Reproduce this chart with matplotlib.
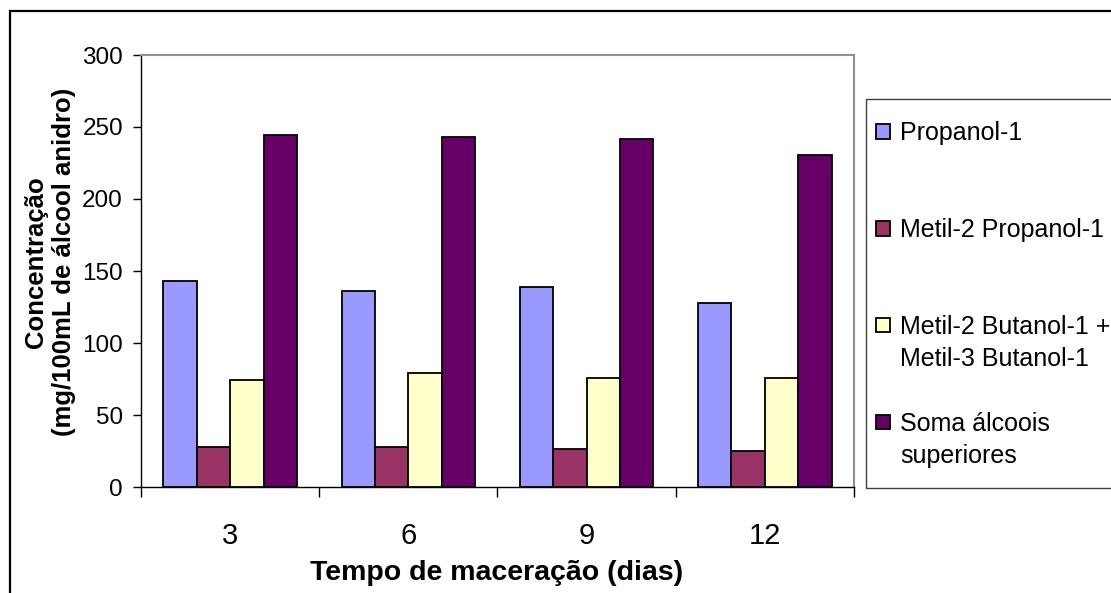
import matplotlib
matplotlib.use("Agg")
import matplotlib.pyplot as plt
from matplotlib.patches import Rectangle
import numpy as np

plt.rcParams['font.family'] = ['Liberation Sans', 'DejaVu Sans']

categories = ["3", "6", "9", "12"]
series_names = ["Propanol-1", "Metil-2 Propanol-1",
                "Metil-2 Butanol-1 +\nMetil-3 Butanol-1", "Soma álcoois\nsuperiores"]
propanol = [143, 136, 139, 128]
metil2_propanol = [28, 28, 26.5, 25]
metil_butanol = [74, 79, 76, 76]
soma = [244.5, 243, 241.5, 230.5]
colors = ["#9999FF", "#993366", "#FFFFCC", "#660066"]
yticks = [0, 50, 100, 150, 200, 250, 300]

W, H = 1111, 593
fig = plt.figure(figsize=(W / 100, H / 100), dpi=100)
ax = fig.add_axes([141 / W, 1 - 487 / H, (854 - 141) / W, (487 - 55) / H])

data = [propanol, metil2_propanol, metil_butanol, soma]
x = np.arange(len(categories))
bw = 0.1875
for i, (vals, c) in enumerate(zip(data, colors)):
    ax.bar(x + (i - 1.5) * bw, vals, width=bw, color=c, edgecolor="black",
           linewidth=1.3, zorder=3)

ax.set_xlim(-0.5, len(categories) - 0.5)
ax.set_ylim(0, 300)
ax.set_yticks(yticks)
ax.set_yticklabels([str(v) for v in yticks], fontsize=17.5)
ax.set_xticks(x)
ax.set_xticklabels(categories, fontsize=21)
ax.set_xticks(np.arange(len(categories) + 1) - 0.5, minor=True)
ax.tick_params(axis="x", which="major", length=0, pad=25)
ax.tick_params(axis="x", which="minor", length=7, width=1, direction="out", color="black")
ax.tick_params(axis="y", length=6, width=1, direction="out", pad=7)
for s in ["top", "right"]:
    ax.spines[s].set_color("#909090")
    ax.spines[s].set_linewidth(1.5)
for s in ["left", "bottom"]:
    ax.spines[s].set_color("black")
    ax.spines[s].set_linewidth(1)

fig.text(497 / W, 1 - 580 / H, "Tempo de maceração (dias)", ha="center", va="baseline",
         fontsize=20.5, fontweight="bold")
fig.text(50 / W, 1 - 262 / H, "Concentração\n(mg/100mL de álcool anidro)", ha="center",
         va="center", rotation=90, fontsize=18.5, fontweight="bold", linespacing=1.2)

# outer frame
fig.patches.append(Rectangle((10 / W, -0.1), 1.2, (1 - 11 / H) + 0.1, transform=fig.transFigure,
                             fill=False, edgecolor="black", linewidth=1.6))
# legend box
fig.patches.append(Rectangle((866 / W, 1 - 488 / H), 0.5, (488 - 99) / H,
                             transform=fig.transFigure, fill=False,
                             edgecolor="#404040", linewidth=1))
first_line_center = [131.5, 228.5, 325, 422]
line_step = 32
for name, c, yc in zip(series_names, colors, first_line_center):
    fig.patches.append(Rectangle((876 / W, 1 - (yc + 7) / H), 14 / W, 14 / H,
                                 transform=fig.transFigure, facecolor=c,
                                 edgecolor="black", linewidth=1.3))
    for k, line in enumerate(name.split("\n")):
        fig.text(900 / W, 1 - (yc + 9 + k * line_step) / H, line, ha="left",
                 va="baseline", fontsize=18)

fig.savefig("out.png", dpi=100)
